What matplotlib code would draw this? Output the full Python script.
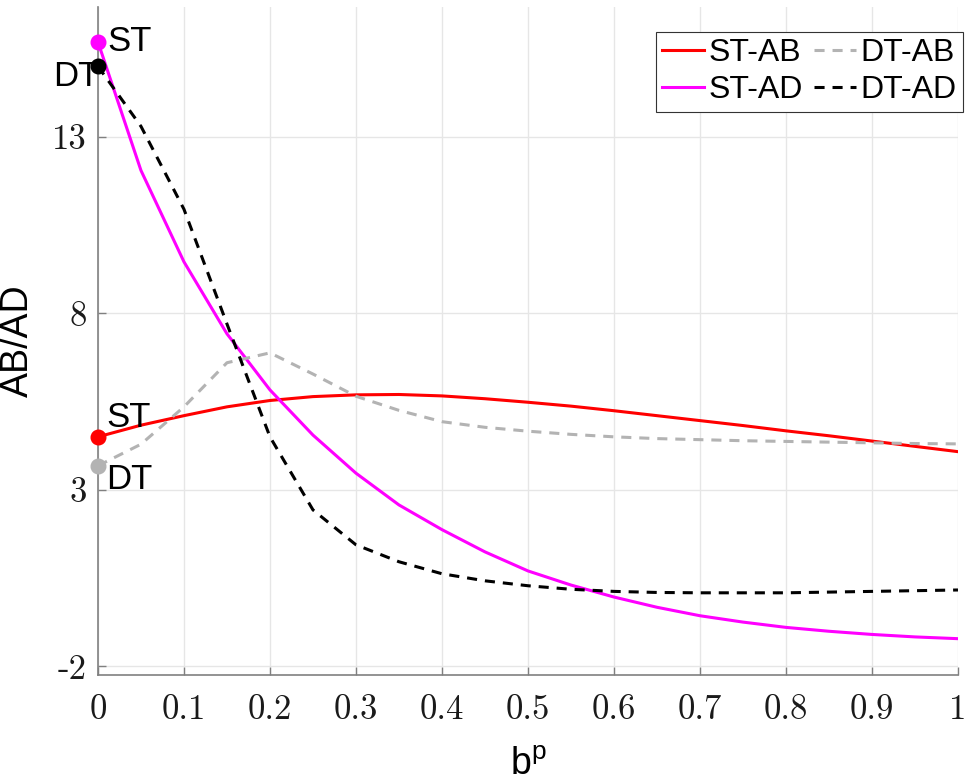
import numpy as np
import matplotlib
matplotlib.use('Agg')
import matplotlib.pyplot as plt

plt.rcParams['mathtext.fontset'] = 'custom'
plt.rcParams['mathtext.rm'] = 'Liberation Sans'
plt.rcParams['axes.unicode_minus'] = False

# b^p values
bp = [0, 0.05, 0.1, 0.15, 0.2, 0.25, 0.3, 0.35, 0.4, 0.45, 0.5,
      0.55, 0.6, 0.65, 0.7, 0.75, 0.8, 0.85, 0.9, 0.95, 1.0]

st_ab = [4.50, 4.83, 5.10, 5.35, 5.53, 5.64, 5.69, 5.70, 5.66, 5.58, 5.48,
         5.37, 5.24, 5.10, 4.96, 4.82, 4.67, 4.53, 4.38, 4.23, 4.08]
st_ad = [15.69, 12.05, 9.46, 7.42, 5.83, 4.55, 3.47, 2.57, 1.87, 1.24, 0.70,
         0.30, -0.04, -0.33, -0.57, -0.75, -0.90, -1.01, -1.10, -1.17, -1.22]
dt_ab = [3.68, 4.29, 5.35, 6.60, 6.88, 6.28, 5.65, 5.25, 4.93, 4.77, 4.66,
         4.57, 4.50, 4.45, 4.42, 4.39, 4.37, 4.35, 4.33, 4.31, 4.30]
dt_ad = [15.00, 13.30, 10.95, 7.70, 4.50, 2.43, 1.44, 0.96, 0.62, 0.42, 0.28,
         0.18, 0.12, 0.09, 0.08, 0.08, 0.08, 0.10, 0.12, 0.14, 0.16]

xticks = [0, 0.1, 0.2, 0.3, 0.4, 0.5, 0.6, 0.7, 0.8, 0.9, 1]
xticklabels = ['0', '0.1', '0.2', '0.3', '0.4', '0.5', '0.6', '0.7', '0.8', '0.9', '1']
yticks = [-2, 3, 8, 13]
yticklabels = ['-2', '3', '8', '13']

fig = plt.figure(figsize=(9.66, 7.82), dpi=100)
ax = fig.add_axes([0.1014, 0.1368, 0.8903, 0.8542])

lw = 2.2
ax.plot(bp, st_ab, color='red', lw=lw, label='ST-AB')
ax.plot(bp, st_ad, color='magenta', lw=lw, label='ST-AD')
l3, = ax.plot(bp, dt_ab, color='#b3b3b3', lw=lw, ls='--', label='DT-AB')
l4, = ax.plot(bp, dt_ad, color='black', lw=lw, ls='--', label='DT-AD')
l3.set_dashes((3.3, 2.6))
l4.set_dashes((3.3, 2.6))

# start markers
ms = 10.5
ax.plot(bp[0], st_ab[0], 'o', color='red', ms=ms, clip_on=False, zorder=5)
ax.plot(bp[0], st_ad[0], 'o', color='magenta', ms=ms, clip_on=False, zorder=5)
ax.plot(bp[0], dt_ab[0], 'o', color='#b3b3b3', ms=ms, clip_on=False, zorder=5)
ax.plot(bp[0], dt_ad[0], 'o', color='black', ms=ms, clip_on=False, zorder=5)

tfs = 25
sans = 'Liberation Sans'
ax.text(0.011, st_ad[0], 'ST', fontsize=tfs, family=sans, ha='left', va='center')
ax.text(0.002, 14.7, 'DT', fontsize=tfs, family=sans, ha='right', va='center')
ax.text(0.0095, 5.04, 'ST', fontsize=tfs, family=sans, ha='left', va='center')
ax.text(0.0095, 3.28, 'DT', fontsize=tfs, family=sans, ha='left', va='center')

ax.set_xlim(0, 1)
ax.set_ylim(-2.25, 16.68)
ax.set_xticks(xticks)
ax.set_xticklabels(xticklabels, family='cmr10', fontsize=25, color='#1a1a1a')
ax.set_yticks(yticks)
ax.set_yticklabels(yticklabels, family='cmr10', fontsize=25, color='#1a1a1a')
ax.tick_params(direction='in', length=6, width=1, color='#808080')
ax.tick_params(axis='x', pad=14)
ax.tick_params(axis='y', pad=8)

ax.grid(True, color='#e6e6e6', lw=1)
ax.set_axisbelow(True)
for s in ['top', 'right']:
    ax.spines[s].set_visible(False)
for s in ['left', 'bottom']:
    ax.spines[s].set_color('#808080')
    ax.spines[s].set_linewidth(1.2)

ax.set_xlabel(r'b$^{\mathrm{p}}$', family=sans, fontsize=27, labelpad=15)
ax.set_ylabel('AB/AD', family=sans, fontsize=27, labelpad=12)

leg = ax.legend(ncol=2, loc='upper right', bbox_to_anchor=(1.006, 0.963),
                prop={'family': sans, 'size': 23},
                handlelength=1.3, handletextpad=0.15, columnspacing=0.35,
                labelspacing=0.22, borderpad=0.2, borderaxespad=0,
                fancybox=False, framealpha=1)
leg.get_frame().set_edgecolor('#333333')
leg.get_frame().set_linewidth(0.8)

fig.savefig('out.png', dpi=100)
